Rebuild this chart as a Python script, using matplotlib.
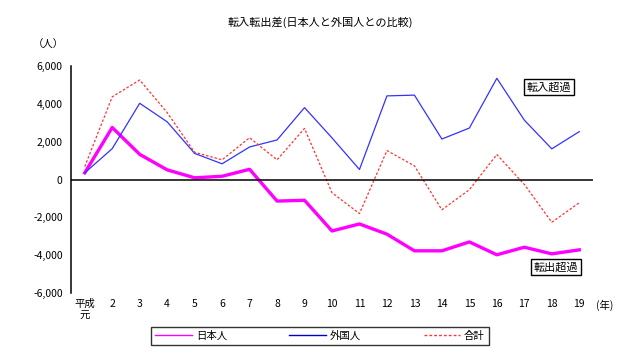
import matplotlib
matplotlib.use('Agg')
import matplotlib.pyplot as plt
from matplotlib.lines import Line2D

plt.rcParams['font.family'] = ['Noto Sans CJK JP', 'DejaVu Sans']

years = list(range(1, 20))
year_labels = ['平成\n元'] + [str(y) for y in range(2, 20)]

japanese = [350, 2750, 1330, 510, 90, 170, 540, -1140, -1100, -2720,
            -2350, -2890, -3770, -3770, -3300, -3980, -3580, -3930, -3720]
foreign = [350, 1630, 4030, 3050, 1380, 830, 1720, 2090, 3800, 2200,
           530, 4420, 4460, 2140, 2720, 5350, 3140, 1620, 2530]
total = [680, 4370, 5260, 3540, 1440, 1040, 2210, 1040, 2700, -700,
         -1800, 1530, 720, -1600, -540, 1320, -260, -2260, -1230]

fig = plt.figure(figsize=(6.42, 3.64), dpi=100)
ax = fig.add_axes([71 / 642, 1 - 293 / 364, 522 / 642, 227 / 364])

ax.plot(years, japanese, color='#ff00ff', lw=2.4)
ax.plot(years, foreign, color='#3333ff', lw=0.9)
ax.plot(years, total, color='#ff3333', lw=0.9, ls=(0, (2, 1.5)))

ax.axhline(0, color='black', lw=1.1)
ax.set_xlim(0.5, 19.5)
ax.set_ylim(-6000, 6000)
ax.set_yticks(range(-6000, 6001, 2000))
ax.set_yticklabels([f'{v:,}' for v in range(-6000, 6001, 2000)], fontsize=7.5)
ax.set_xticks(years)
ax.set_xticklabels(year_labels, fontsize=7.5, va='top', linespacing=1.25)
ax.tick_params(axis='y', length=0, pad=6)
ax.tick_params(axis='x', length=0, pad=4)
for s in ['top', 'right', 'bottom']:
    ax.spines[s].set_visible(False)
ax.spines['left'].set_linewidth(1.1)

fig.text(320 / 642, 1 - 22 / 364, '転入転出差(日本人と外国人との比較)', ha='center', va='center', fontsize=8)
fig.text(48 / 642, 1 - 45 / 364, '（人）', ha='center', va='center', fontsize=7.5)
fig.text(605 / 642, 1 - 305 / 364, '(年)', ha='center', va='center', fontsize=7.5)

box = dict(boxstyle='square,pad=0.25', fc='white', ec='black', lw=1)
fig.text(549 / 642, 1 - 87 / 364, '転入超過', ha='center', va='center', fontsize=8, bbox=box)
fig.text(556 / 642, 1 - 267 / 364, '転出超過', ha='center', va='center', fontsize=8, bbox=box)

handles = [Line2D([], [], color='#ff00ff', lw=1),
           Line2D([], [], color='#0000cc', lw=1),
           Line2D([], [], color='#ff3333', lw=1, ls=(0, (2, 1.5)))]
leg = fig.legend(handles, ['日本人', '外国人', '合計'], loc='center',
                 bbox_to_anchor=(320 / 642, 1 - 336 / 364),
                 ncol=3, fontsize=7.5, frameon=True, fancybox=False, edgecolor='black',
                 handlelength=3.5, columnspacing=6, borderpad=0.4, handletextpad=0.4)
leg.get_frame().set_linewidth(1)

fig.savefig('out.png', dpi=100)
